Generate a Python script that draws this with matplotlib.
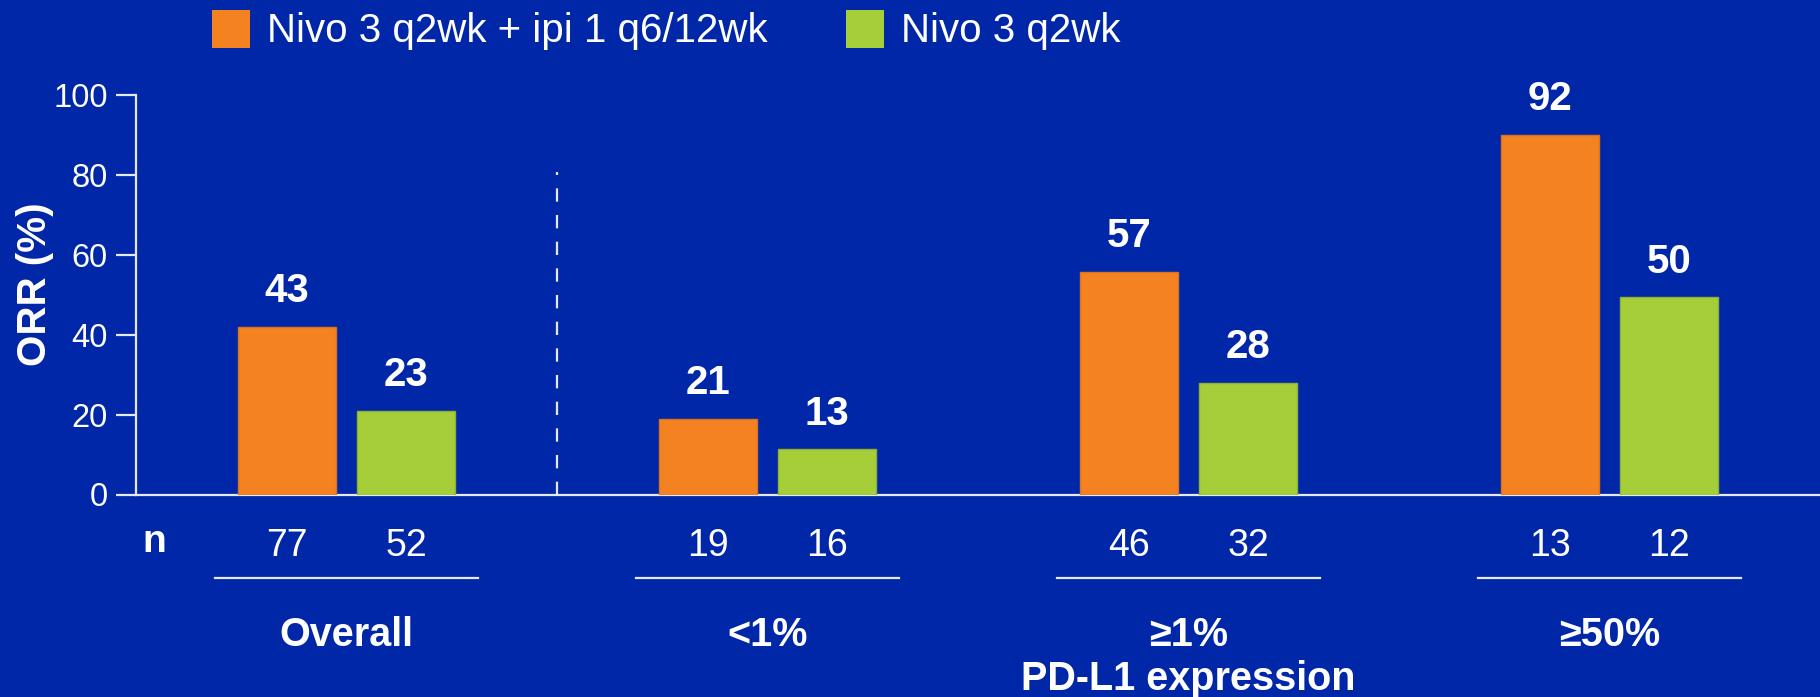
import matplotlib
matplotlib.use("Agg")
import matplotlib.pyplot as plt
import matplotlib.transforms as mtransforms
from matplotlib.patches import Patch
import numpy as np

plt.rcParams['font.family'] = ['Liberation Sans', 'DejaVu Sans']

# ---- data ----
groups = ["Overall", "<1%", "≥1%", "≥50%"]
series_names = ["Nivo 3 q2wk + ipi 1 q6/12wk", "Nivo 3 q2wk"]
combo_bars = [42, 19, 55.8, 90.1]        # bar heights as drawn
mono_bars = [21, 11.4, 28, 49.4]
combo_labels = ["43", "21", "57", "92"]   # printed values
mono_labels = ["23", "13", "28", "50"]
combo_n = ["77", "19", "46", "13"]
mono_n = ["52", "16", "32", "12"]
subtitle = "PD-L1 expression"
ylabel = "ORR (%)"
yticks = [0, 20, 40, 60, 80, 100]

# ---- style ----
BG = "#0127A9"
ORANGE = "#F58220"
GREEN = "#A6CE39"
WHITE = "white"
AXC = "#E6E8F2"

W, H = 1820, 697
fig = plt.figure(figsize=(W / 100, H / 100), dpi=100, facecolor=BG)
ax = fig.add_axes([136 / W, 1 - 494.5 / H, 1 - 136 / W, (494.5 - 95.2) / H])
ax.set_facecolor(BG)

x = np.arange(len(groups))
off = 0.142
bw = 0.233
b1 = ax.bar(x - off, combo_bars, bw, color=ORANGE, edgecolor="#D9731C", linewidth=1, zorder=3)
b2 = ax.bar(x + off, mono_bars, bw, color=GREEN, edgecolor="#8FB331", linewidth=1, zorder=3)

for rect, lab in zip(b1, combo_labels):
    ax.annotate(lab, (rect.get_x() + rect.get_width() / 2, rect.get_height()),
                xytext=(0, 25.5), textcoords="offset points", ha="center", va="center",
                color=WHITE, fontsize=29, fontweight="bold")
for rect, lab in zip(b2, mono_labels):
    ax.annotate(lab, (rect.get_x() + rect.get_width() / 2, rect.get_height()),
                xytext=(0, 25.5), textcoords="offset points", ha="center", va="center",
                color=WHITE, fontsize=29, fontweight="bold")

ax.set_xlim(-0.5, 3.5)
ax.set_ylim(0, 100)
ax.set_yticks(yticks)
ax.set_xticks([])
for s in ["top", "right"]:
    ax.spines[s].set_visible(False)
for s in ["left", "bottom"]:
    ax.spines[s].set_color(AXC)
    ax.spines[s].set_linewidth(1.6)
ax.tick_params(axis="y", colors=AXC, length=14.5, width=1.6, labelsize=23.5,
               labelcolor=WHITE, pad=6)

# dashed separator
ax.plot([0.5, 0.5], [0, 80.8], color=AXC, linewidth=1.6, linestyle=(0, (6, 6)), zorder=2)

# y label
fig.text(35 / W, 1 - 284 / H, ylabel, rotation=90, ha="center", va="center",
         color=WHITE, fontsize=29, fontweight="bold")

# bottom annotations
tr = mtransforms.blended_transform_factory(ax.transData, fig.transFigure)
fig.text(154 / W, 1 - 542 / H, "n", ha="center", va="center", color=WHITE,
         fontsize=28, fontweight="bold")
for i in range(len(groups)):
    ax.text(x[i] - off, 1 - 546 / H, combo_n[i], transform=tr, ha="center", va="center",
            color=WHITE, fontsize=27)
    ax.text(x[i] + off, 1 - 546 / H, mono_n[i], transform=tr, ha="center", va="center",
            color=WHITE, fontsize=27)
    ax.plot([x[i] - 0.313, x[i] + 0.313], [1 - 577.5 / H] * 2, transform=tr,
            color=AXC, linewidth=1.6, clip_on=False)
    ax.text(x[i], 1 - 635 / H, groups[i], transform=tr, ha="center", va="center",
            color=WHITE, fontsize=28.5, fontweight="bold")
ax.text(x[2], 1 - 679 / H, subtitle, transform=tr, ha="center", va="center",
        color=WHITE, fontsize=28.5, fontweight="bold")

# legend
handles = [Patch(facecolor=ORANGE, edgecolor="none"), Patch(facecolor=GREEN, edgecolor="none")]
leg = fig.legend(handles, series_names, loc="center left", bbox_to_anchor=(212 / W, 1 - 30 / H),
                 ncol=2, frameon=False, fontsize=29, labelcolor=WHITE,
                 handlelength=0.94, handleheight=1.08, handletextpad=0.42,
                 columnspacing=1.95, borderpad=0, borderaxespad=0)

fig.savefig("out.png", dpi=100, facecolor=BG)
